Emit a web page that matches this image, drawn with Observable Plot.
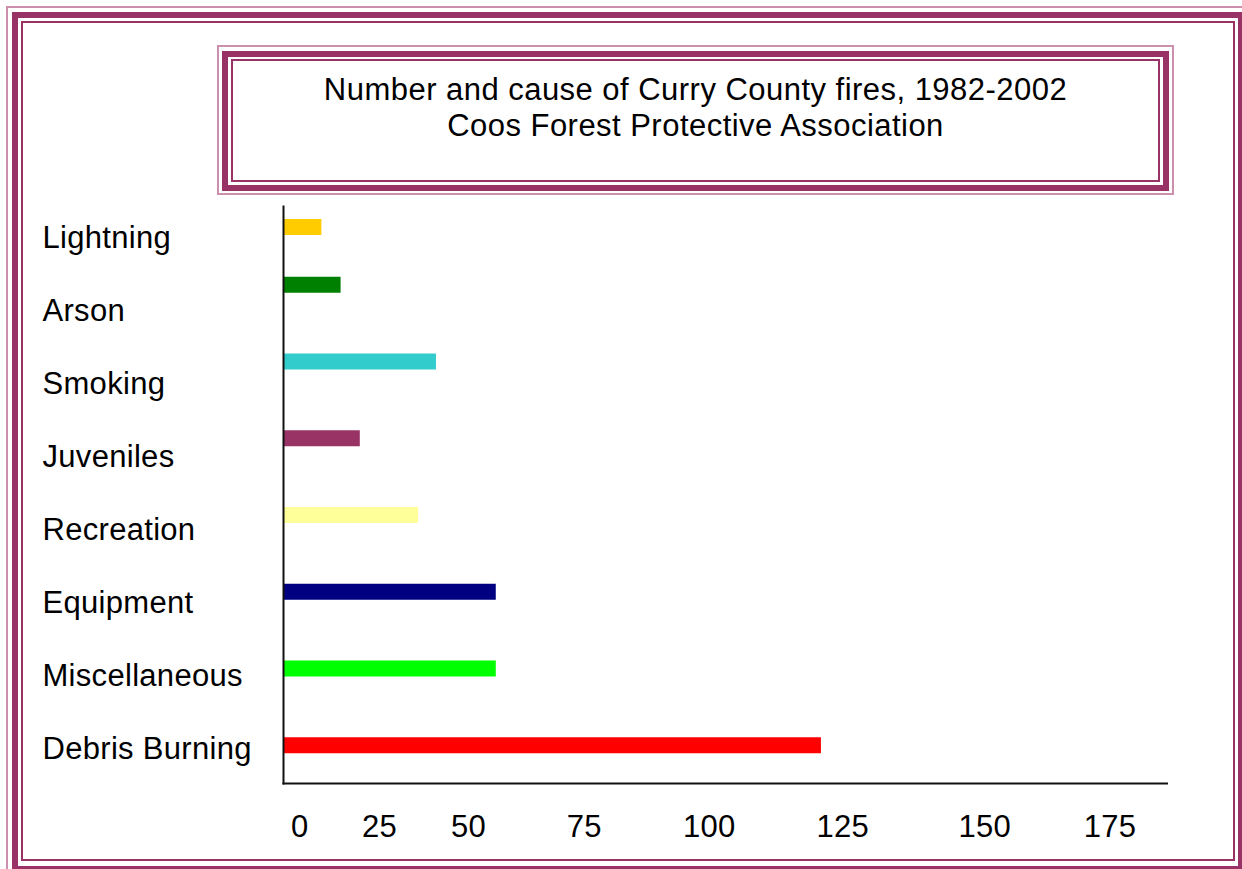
<!DOCTYPE html>
<html>
<head>
<meta charset="utf-8">
<script src="https://cdn.jsdelivr.net/npm/d3@7"></script>
<script src="https://cdn.jsdelivr.net/npm/@observablehq/plot@0.6"></script>
<style>
  html, body { margin: 0; padding: 0; background: #fff; overflow: hidden; }
  #page { position: relative; width: 1242px; height: 869px; overflow: hidden; background: #fff;
          font-family: "Liberation Sans", Arial, Helvetica, sans-serif; }
  .box { position: absolute; box-sizing: border-box; }
  .thin-light { border: 2px solid #cc8fae; }
  .thick { border: 6px solid #993366; }
  .thin { border: 2px solid #993366; }
  #title { position: absolute; left: 217px; top: 72px; width: 957px; text-align: center;
           font-size: 31px; line-height: 36px; letter-spacing: 0.47px; color: #000; }
</style>
</head>
<body>
<div id="page">
  <!-- page frame -->
  <div class="box thin-light" style="left:6px;top:6px;width:1244px;height:872px"></div>
  <div class="box thick" style="left:12px;top:12px;width:1232px;height:860px"></div>
  <div class="box thin" style="left:21px;top:21px;width:1214px;height:840px"></div>
  <!-- title box -->
  <div class="box thin-light" style="left:217px;top:45px;width:957px;height:150px"></div>
  <div class="box thick" style="left:222px;top:51px;width:947px;height:140px"></div>
  <div class="box thin" style="left:231px;top:59px;width:929px;height:123px"></div>
  <div id="title">Number and cause of Curry County fires, 1982-2002<br>Coos Forest Protective Association</div>
</div>
<script>
// ---- data ----
const causes = ["Lightning", "Arson", "Smoking", "Juveniles", "Recreation", "Equipment", "Miscellaneous", "Debris Burning"];
const fires = [10, 15, 41, 20, 36, 56, 56, 121];
const barColors = ["#ffcc00", "#008000", "#33cccc", "#993366", "#ffff99", "#000080", "#00ff00", "#ff0000"];
const xTicks = [0, 25, 50, 75, 100, 125, 150, 175];

const rows = causes.map((c, i) => ({cause: c, fires: fires[i], color: barColors[i], rank: i}));
const font = '"Liberation Sans", Arial, Helvetica, sans-serif';

// the original chart's value axis is non-uniform: piecewise-linear position scales
const xBars = d3.scaleLinear().domain([...xTicks, 188]).range([283, 379, 468, 583.7, 708.7, 842.3, 984.2, 1109.5, 1166.5]);
const xLabels = d3.scaleLinear().domain(xTicks).range([299.2, 379, 468, 583.7, 708.7, 842.3, 984.2, 1109.5]);
const yBars = d3.scaleLinear().domain([0, 1, 7]).range([226.6, 284.2, 744.8]);

// bars + axis lines
const chart = Plot.plot({
  width: 1242, height: 869,
  marginLeft: 283, marginRight: 75.5, marginTop: 206, marginBottom: 86,
  style: {background: "transparent", position: "absolute", left: "0px", top: "0px", overflow: "visible", maxWidth: "none"},
  x: {type: "linear", transform: xBars, domain: [0, 1242], range: [0, 1242], axis: null},
  y: {type: "linear", transform: yBars, domain: [0, 869], range: [0, 869], axis: null},
  marks: [
    Plot.ruleY(rows, {y: "rank", x1: 0, x2: "fires", stroke: d => d.color, strokeWidth: 16}),
    Plot.frame({anchor: "left", stroke: "#111", strokeWidth: 2}),
    Plot.frame({anchor: "bottom", stroke: "#111", strokeWidth: 2})
  ]
});

// category and tick labels
const labels = Plot.plot({
  width: 1242, height: 869,
  marginLeft: 42, marginRight: 0, marginTop: 0, marginBottom: 55,
  style: {background: "transparent", position: "absolute", left: "0px", top: "0px", overflow: "visible",
          maxWidth: "none", fontFamily: font, fontSize: "31px", letterSpacing: "0.3px", color: "#000"},
  x: {type: "linear", transform: xLabels, domain: [0, 1242], range: [0, 1242], axis: null},
  y: {type: "point", domain: causes, range: [236, 751.8], padding: 0, axis: null},
  marks: [
    Plot.text(xTicks, {x: d => d, text: d => String(d), frameAnchor: "bottom", lineAnchor: "top", fontSize: 31}),
    Plot.text(causes, {y: d => d, text: d => d, frameAnchor: "left", textAnchor: "start", fontSize: 31})
  ]
});

const page = document.getElementById("page");
page.insertBefore(labels, page.firstChild);
page.insertBefore(chart, page.firstChild);
</script>
</body>
</html>
